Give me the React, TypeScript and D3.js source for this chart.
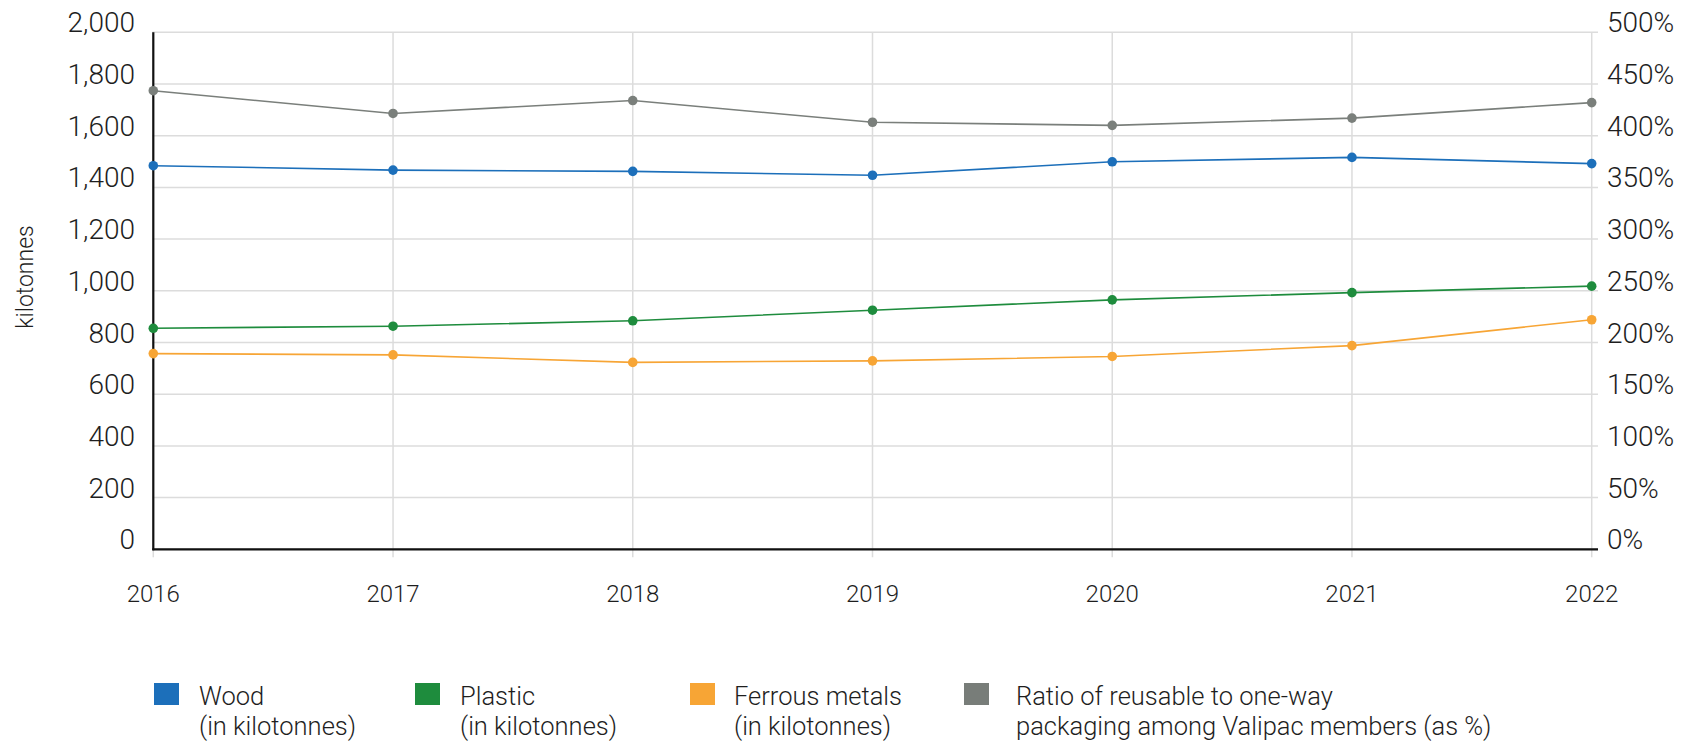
import React from "react";
import * as d3 from "d3";

// Years on the x axis
const years = [2016, 2017, 2018, 2019, 2020, 2021, 2022];

// Packaging put on the market (kilotonnes, left axis)
const wood = [1484, 1467, 1462, 1447, 1499, 1516, 1492];
const plastic = [855, 863, 884, 925, 965, 993, 1018];
const ferrous = [757, 752, 723, 729, 746, 788, 888];

// Ratio of reusable to one-way packaging (%, right axis)
const reuseRatio = [443.5, 421.5, 434, 413, 410, 417, 432];

// Axis ticks
const leftTicks = [0, 200, 400, 600, 800, 1000, 1200, 1400, 1600, 1800, 2000];
const rightTicks = [0, 50, 100, 150, 200, 250, 300, 350, 400, 450, 500];

// Legend entries
const legendLabels = [
  ["Wood", "(in kilotonnes)"],
  ["Plastic", "(in kilotonnes)"],
  ["Ferrous metals", "(in kilotonnes)"],
  ["Ratio of reusable to one-way", "packaging among Valipac members (as %)"],
];

const W = 1683;
const H = 742;
const FONT = "Roboto, 'Noto Sans', sans-serif";

const COLORS = {
  wood: "#1c6fba",
  plastic: "#1e8c3d",
  ferrous: "#f7a535",
  ratio: "#7a7f7b",
};

export default function App() {
  const left = 153.3;
  const right = 1591.7;
  const top = 32.3;
  const bottom = 549.3;

  const x = d3.scaleLinear().domain([2016, 2022]).range([left, right]);
  const yL = d3.scaleLinear().domain([0, 2000]).range([bottom, top]);
  const yR = d3.scaleLinear().domain([0, 500]).range([bottom, top]);

  const lineL = d3
    .line<number>()
    .x((_, i) => x(years[i]))
    .y((d) => yL(d));
  const lineR = d3
    .line<number>()
    .x((_, i) => x(years[i]))
    .y((d) => yR(d));

  const series = [
    { key: "ratio", values: reuseRatio, color: COLORS.ratio, gen: lineR, scale: yR },
    { key: "wood", values: wood, color: COLORS.wood, gen: lineL, scale: yL },
    { key: "plastic", values: plastic, color: COLORS.plastic, gen: lineL, scale: yL },
    { key: "ferrous", values: ferrous, color: COLORS.ferrous, gen: lineL, scale: yL },
  ];

  const fmt = d3.format(",");
  const legendColors = [COLORS.wood, COLORS.plastic, COLORS.ferrous, "#787d79"];
  const legendSwatchX = [154, 415, 690, 964];
  const legendTextX = [199, 460, 734, 1016];

  return (
    <svg
      width={W}
      height={H}
      style={{ position: "absolute", left: 0, top: 0, display: "block", background: "#fff" }}
      fontFamily={FONT}
    >
      {/* horizontal grid */}
      {leftTicks.map((t) => (
        <line
          key={"h" + t}
          x1={left - 1}
          x2={1598}
          y1={yL(t)}
          y2={yL(t)}
          stroke="#dcdcdc"
          strokeWidth={1.5}
        />
      ))}
      {/* vertical grid */}
      {years.map((yr) => (
        <line
          key={"v" + yr}
          x1={x(yr)}
          x2={x(yr)}
          y1={top}
          y2={bottom + 8}
          stroke="#dcdcdc"
          strokeWidth={1.5}
        />
      ))}
      {/* axis lines */}
      <line x1={left} x2={left} y1={top} y2={bottom + 1} stroke="#111" strokeWidth={2.2} />
      <line x1={left - 1} x2={1598} y1={bottom} y2={bottom} stroke="#111" strokeWidth={2.2} />

      {/* left tick labels */}
      {leftTicks.map((t) => (
        <text
          key={"lt" + t}
          x={135}
          y={yL(t)}
          textAnchor="end"
          fontSize={28}
          fontWeight={300}
          fill="#1e1e1e"
        >
          {fmt(t)}
        </text>
      ))}
      {/* right tick labels */}
      {rightTicks.map((t) => (
        <text
          key={"rt" + t}
          x={1607}
          y={yR(t)}
          textAnchor="start"
          fontSize={28}
          fontWeight={300}
          fill="#1e1e1e"
        >
          {t + "%"}
        </text>
      ))}
      {/* x tick labels */}
      {years.map((yr) => (
        <text
          key={"x" + yr}
          x={x(yr)}
          y={602}
          textAnchor="middle"
          fontSize={24}
          fontWeight={300}
          fill="#1e1e1e"
        >
          {yr}
        </text>
      ))}

      {/* y axis title */}
      <text
        transform="translate(33,277) rotate(-90)"
        textAnchor="middle"
        fontSize={23}
        fontWeight={300}
        fill="#1e1e1e"
      >
        kilotonnes
      </text>

      {/* series */}
      {series.map((s) => (
        <g key={s.key}>
          <path d={s.gen(s.values) || ""} fill="none" stroke={s.color} strokeWidth={1.6} />
          {s.values.map((v, i) => (
            <circle key={i} cx={x(years[i])} cy={s.scale(v)} r={4.8} fill={s.color} />
          ))}
        </g>
      ))}

      {/* legend */}
      {legendLabels.map((lines, i) => (
        <g key={"lg" + i}>
          <rect x={legendSwatchX[i]} y={683} width={25} height={22} fill={legendColors[i]} />
          {lines.map((ln, j) => (
            <text
              key={j}
              x={legendTextX[i]}
              y={705 + j * 30}
              fontSize={25.5}
              fontWeight={300}
              fill="#1e1e1e"
            >
              {ln}
            </text>
          ))}
        </g>
      ))}
    </svg>
  );
}
